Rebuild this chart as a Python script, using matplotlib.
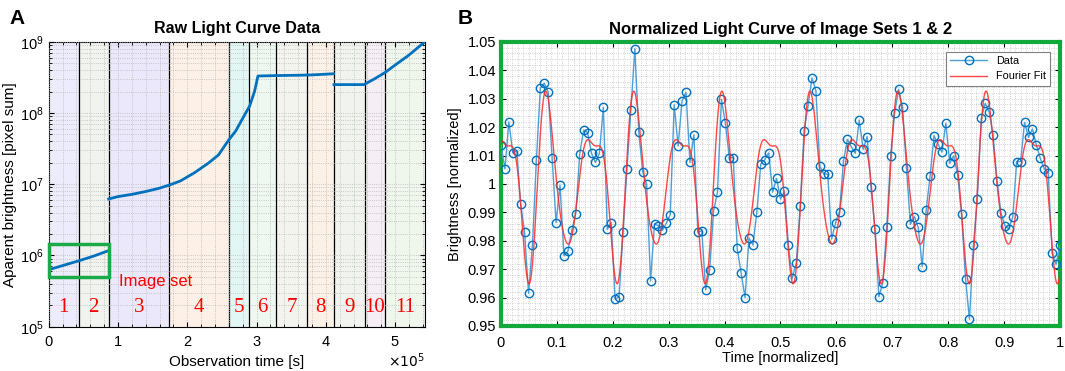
import numpy as np
import matplotlib
matplotlib.use("Agg")
from matplotlib import pyplot as plt
from matplotlib.ticker import ScalarFormatter, AutoMinorLocator, FixedLocator, LogLocator, NullFormatter

plt.rcParams['font.family'] = ['Liberation Sans', 'DejaVu Sans']
plt.rcParams['axes.linewidth'] = 0.8

# ---- panel A: raw light curve (x in seconds) ----
set_edges = [0, 0.433e5, 0.866e5, 1.736e5, 2.60e5, 2.895e5, 3.285e5, 3.727e5,
             4.117e5, 4.564e5, 4.848e5, 5.43e5]
set_labels = ['1', '2', '3', '4', '5', '6', '7', '8', '9', '10', '11']
set_colors = ['#ececfc', '#f1f3ef', '#ebe8fc', '#fdf0e6', '#e2f7f4', '#eef8f0',
              '#f4f4ee', '#fcf1e6', '#f1f4ee', '#f5eef5', '#eff6ec']

seg1_t = [0, 0.2e5, 0.433e5, 0.65e5, 0.866e5]
seg1_b = [6.3e5, 7.2e5, 8.4e5, 9.8e5, 1.17e6]
seg2_t = [0.866e5, 1.0e5, 1.2e5, 1.4e5, 1.6e5, 1.75e5, 1.9e5, 2.1e5, 2.3e5, 2.45e5,
          2.6e5, 2.7e5, 2.8e5, 2.9e5, 2.97e5, 3.02e5, 3.3e5, 3.6e5, 3.8e5, 4.0e5, 4.11e5]
seg2_b = [6.2e6, 6.7e6, 7.2e6, 7.9e6, 8.8e6, 9.8e6, 1.11e7, 1.44e7, 1.96e7, 2.57e7,
          4.2e7, 5.6e7, 8.4e7, 1.25e8, 1.99e8, 3.3e8, 3.35e8, 3.38e8, 3.42e8, 3.5e8, 3.55e8]
seg3_t = [4.117e5, 4.3e5, 4.55e5, 4.7e5, 4.85e5, 5.0e5, 5.2e5, 5.43e5]
seg3_b = [2.5e8, 2.5e8, 2.5e8, 3.0e8, 3.67e8, 4.7e8, 6.5e8, 1.0e9]

# ---- panel B: normalized light curve of image sets 1 & 2 ----
brightness = [
    1.0137, 1.0053, 1.0219, 1.0110, 1.0117, 0.9930, 0.9830, 0.9615, 0.9786, 1.0085,
    1.0337, 1.0355, 1.0324, 1.0090, 0.9864, 0.9996, 0.9747, 0.9764, 0.9838, 0.9896,
    1.0106, 1.0190, 1.0181, 1.0108, 1.0076, 1.0108, 1.0270, 0.9840, 0.9864, 0.9594,
    0.9603, 0.9830, 1.0053, 1.0260, 1.0476, 1.0184, 1.0043, 0.9999, 0.9659, 0.9860,
    0.9853, 0.9837, 0.9862, 0.9892, 1.0279, 1.0134, 1.0293, 1.0323, 1.0076, 1.0173,
    0.9830, 0.9836, 0.9628, 0.9696, 0.9904, 0.9972, 1.0298, 1.0214, 1.0093, 1.0093,
    0.9774, 0.9687, 0.9600, 0.9810, 0.9785, 0.9901, 1.0071, 1.0085, 1.0110, 0.9971,
    1.0020, 0.9947, 0.9975, 0.9785, 0.9668, 0.9721, 0.9921, 1.0188, 1.0275, 1.0373,
    1.0329, 1.0063, 1.0035, 1.0035, 0.9806, 0.9864, 0.9903, 1.0081, 1.0157, 1.0131,
    1.0108, 1.0225, 1.0122, 1.0167, 0.9988, 0.9840, 0.9603, 0.9653, 0.9850, 1.0100,
    1.0251, 1.0333, 1.0272, 1.0055, 0.9858, 0.9885, 0.9847, 0.9709, 0.9907, 1.0028,
    1.0170, 1.0141, 1.0112, 1.0214, 1.0073, 1.0099, 1.0032, 0.9893, 0.9667, 0.9524,
    0.9784, 0.9947, 1.0231, 1.0284, 1.0254, 1.0173, 1.0012, 0.9899, 0.9853, 0.9842,
    0.9883, 1.0079, 1.0079, 1.0217, 1.0164, 1.0194, 1.0137, 1.0090, 1.0054, 1.0040,
    0.9756, 0.9717, 0.9785,
]
time_norm = np.linspace(0, 1, len(brightness))


def fourier_fit(t, y, n_harm):
    # least squares Fourier series, fundamental frequency found by scanning
    best = None
    for w in np.arange(25, 60, 0.01):
        cols = [np.ones_like(t)]
        for k in range(1, n_harm + 1):
            cols += [np.cos(k * w * t), np.sin(k * w * t)]
        A = np.column_stack(cols)
        coef, *_ = np.linalg.lstsq(A, y, rcond=None)
        err = np.sum((A @ coef - y) ** 2)
        if best is None or err < best[0]:
            best = (err, w, coef)
    _, w, coef = best

    def f(x):
        out = coef[0] * np.ones_like(x)
        for k in range(1, n_harm + 1):
            out += coef[2 * k - 1] * np.cos(k * w * x) + coef[2 * k] * np.sin(k * w * x)
        return out
    return f


fit = fourier_fit(time_norm, np.array(brightness), 4)
t_fine = np.linspace(0, 1, 1000)

fig = plt.figure(figsize=(10.65, 3.71), dpi=100)
axA = fig.add_axes([0.0457, 0.1194, 0.3533, 0.7682])
axB = fig.add_axes([0.4704, 0.1213, 0.5249, 0.7655])

# panel A
for i in range(len(set_labels)):
    axA.axvspan(set_edges[i], set_edges[i + 1], color=set_colors[i], zorder=0, lw=0)
    if i > 0:
        axA.axvline(set_edges[i], color='black', lw=0.9, zorder=2)
    axA.text((set_edges[i] + set_edges[i + 1]) / 2, 1.85e5, set_labels[i], color='red',
             ha='center', va='center', fontsize=15, family='Liberation Serif', zorder=4)

axA.plot(seg1_t, seg1_b, color='#0072BD', lw=2, zorder=3)
axA.plot(seg2_t, seg2_b, color='#0072BD', lw=2, zorder=3)
axA.plot(seg3_t, seg3_b, color='#0072BD', lw=2, zorder=3)
axA.add_patch(plt.Rectangle((0, 5.0e5), 0.866e5, 1.45e6 - 5.0e5, fill=False,
                            edgecolor='#1aaa48', lw=2.5, zorder=5, clip_on=False))
axA.text(1.01e5, 4.3e5, 'Image set', color='red', fontsize=12, va='center', zorder=4)

axA.set_yscale('log')
axA.set_xlim(0, 5.43e5)
axA.set_ylim(1e5, 1e9)
axA.xaxis.set_major_locator(FixedLocator([0, 1e5, 2e5, 3e5, 4e5, 5e5]))
axA.xaxis.set_minor_locator(AutoMinorLocator(5))
fmt = ScalarFormatter(useMathText=True)
fmt.set_powerlimits((0, 0))
axA.xaxis.set_major_formatter(fmt)
axA.xaxis.get_offset_text().set_visible(False)
axA.text(1.0, -0.085, r'$\times10^{5}$', transform=axA.transAxes, ha='right', va='top',
         fontsize=10)
axA.yaxis.set_major_locator(LogLocator(base=10, numticks=10))
axA.yaxis.set_minor_locator(LogLocator(base=10, subs=np.arange(2, 10), numticks=10))
axA.yaxis.set_minor_formatter(NullFormatter())
axA.grid(which='both', ls=':', color='#b8b8b8', lw=0.6, zorder=1)
axA.set_axisbelow(False)
axA.tick_params(which='both', direction='in', top=True, right=True, labelsize=10.5)
axA.tick_params(axis='x', pad=6)
axA.tick_params(which='minor', length=2)
axA.set_title('Raw Light Curve Data', fontsize=11.5, fontweight='bold', pad=6)
axA.set_xlabel('Observation time [s]', fontsize=11, labelpad=4)
axA.set_ylabel('Aparent brightness [pixel sum]', fontsize=11, labelpad=2)

# panel B
axB.plot(time_norm, brightness, color='#4d9fd8', lw=1, marker='o', ms=6,
         mfc='none', mec='#0072BD', mew=1, label='Data', zorder=3)
axB.plot(t_fine, fit(t_fine), color='#ff2a2a', lw=1, alpha=0.85, label='Fourier Fit', zorder=4)
axB.set_xlim(0, 1)
axB.set_ylim(0.95, 1.05)
axB.set_xticks(np.arange(0, 1.01, 0.1))
axB.set_xticklabels(['0', '0.1', '0.2', '0.3', '0.4', '0.5', '0.6', '0.7', '0.8', '0.9', '1'])
yt = np.round(np.arange(0.95, 1.0501, 0.01), 2)
axB.set_yticks(yt)
axB.set_yticklabels(['1' if abs(v - 1) < 1e-9 else f'{v:.2f}' for v in yt])
axB.xaxis.set_minor_locator(AutoMinorLocator(10))
axB.yaxis.set_minor_locator(AutoMinorLocator(5))
axB.grid(which='both', ls=':', color='#c4c4c4', lw=0.6, zorder=1)
axB.tick_params(which='both', direction='in', top=True, right=True, labelsize=10.5)
axB.tick_params(axis='x', pad=7)
axB.tick_params(which='minor', length=0)
for sp in axB.spines.values():
    sp.set_color('#13a83e')
    sp.set_linewidth(3)
axB.set_title('Normalized Light Curve of Image Sets 1 & 2', fontsize=12, fontweight='bold', pad=6)
axB.set_xlabel('Time [normalized]', fontsize=10.5, labelpad=1)
axB.set_ylabel('Brightness [normalized]', fontsize=10.5, labelpad=4)
leg = axB.legend(loc='upper right', fontsize=7.8, fancybox=False, framealpha=1,
                 edgecolor='#808080', handlelength=3.4, borderaxespad=0.9)
leg.get_frame().set_linewidth(0.8)

fig.text(0.009, 0.975, 'A', fontsize=15, fontweight='bold', va='top')
fig.text(0.430, 0.975, 'B', fontsize=15, fontweight='bold', va='top')

fig.savefig('out.png', dpi=100)
